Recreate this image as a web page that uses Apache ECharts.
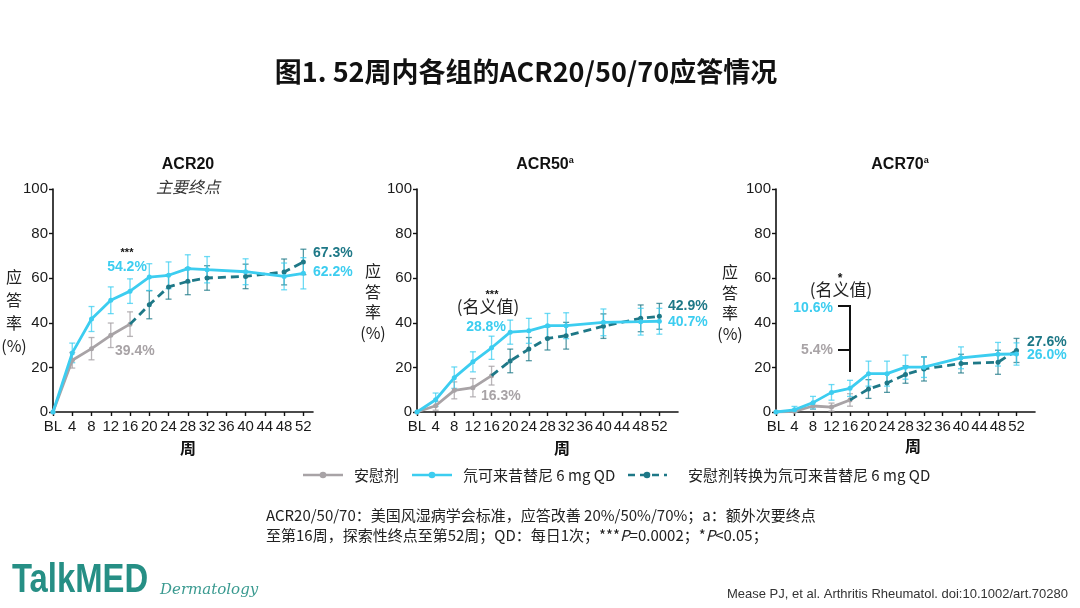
<!DOCTYPE html>
<html><head><meta charset="utf-8">
<script src="https://cdn.jsdelivr.net/npm/echarts@6/dist/echarts.min.js"></script>
<style>html,body{margin:0;padding:0;background:#fff}#c{width:1080px;height:608px}</style>
</head><body><div id="c"></div>
<script>
// ---------- data ----------
const tickWeeks = [0,4,8,12,16,20,24,28,32,36,40,44,48,52];
const yTicks = [0,20,40,60,80,100];
const deucWeeks = [0,4,8,12,16,20,24,28,32,40,48,52];
const pboWeeks = [0,4,8,12,16];
const switchWeeks = [16,20,24,28,32,40,48,52];

// ACR20
const acr20Deuc      = [0,26.5,41.7,50.1,54.2,60.5,61.3,64.3,63.8,62.9,60.8,62.2];
const acr20DeucErr   = [0,4.4,5.6,6.0,5.5,6.0,6.0,6.2,5.9,5.8,6.0,7.0];
const acr20Pbo       = [0,23.2,28.4,34.4,39.4];
const acr20PboErr    = [0,3.5,5.0,5.5,5.5];
const acr20Switch    = [39.4,48.1,56.1,58.6,60.1,60.8,62.8,67.3];
const acr20SwitchErr = [0,6.3,5.5,6.0,5.5,5.5,5.8,5.7];
// ACR50
const acr50Deuc      = [0,5.5,15.4,22.5,28.8,35.8,36.4,38.7,38.7,40.2,40.5,40.7];
const acr50DeucErr   = [0,3.0,4.8,4.5,5.2,5.4,5.6,5.5,5.8,6.0,6.0,5.8];
const acr50Pbo       = [0,2.8,9.7,10.9,16.3];
const acr50PboErr    = [0,2.0,3.8,4.1,4.2];
const acr50Switch    = [16.3,22.9,28.2,33.0,34.2,38.5,42.0,42.9];
const acr50SwitchErr = [0,5.3,5.2,5.2,6.0,5.5,6.0,5.8];
// ACR70
const acr70Deuc      = [0,1.0,4.2,8.8,10.6,17.2,17.2,20.1,20.1,24.3,25.9,26.0];
const acr70DeucErr   = [0,1.5,2.8,3.5,3.6,5.6,5.6,5.4,4.6,4.9,5.3,5.0];
const acr70Pbo       = [0,0.3,2.7,2.2,5.4];
const acr70PboErr    = [0,0.5,1.5,1.8,2.8];
const acr70Switch    = [5.4,10.3,13.0,16.8,19.3,21.7,22.3,27.6];
const acr70SwitchErr = [0,4.2,4.2,3.9,5.4,4.2,5.4,5.4];

// ---------- style ----------
const C_CYAN = '#3ccdf0', C_TEAL = '#1e7887', C_GRAY = '#a8a3a6';
const E_CYAN = 'rgba(60,205,240,0.75)', E_TEAL = 'rgba(30,120,135,0.75)', E_GRAY = 'rgba(168,163,166,0.8)';
const NUM_FONT = '"Liberation Sans", Arial, "Noto Sans CJK SC", sans-serif';
const CJK_FONT = '"Noto Sans CJK SC", "Liberation Sans", sans-serif';

const grids = [
  {left:53, top:189, width:260, height:223, max:54},
  {left:417, top:189, width:261, height:223, max:56},
  {left:776, top:189, width:259, height:223, max:56}
];

const chart = echarts.init(document.getElementById('c'));

function lineSeries(gi, xs, ys, color, dashed, z, hideFirst){
  return {
    type:'line', xAxisIndex:gi, yAxisIndex:gi, z:z, silent:true,
    data: xs.map((x,i)=> (hideFirst && i===0) ? {value:[x,ys[i]], symbolSize:0} : [x,ys[i]]),
    symbol:'circle', symbolSize:5, showAllSymbol:true,
    lineStyle:{color:color, width:2.8, type: dashed ? [8,5] : 'solid'},
    itemStyle:{color:color}, animation:false
  };
}
function errSeries(gi, xs, ys, es, color, z){
  const data = [];
  xs.forEach((x,i)=>{ if (es[i] > 0) data.push([x, Math.max(0, ys[i]-es[i]), ys[i]+es[i]]); });
  return {
    type:'custom', xAxisIndex:gi, yAxisIndex:gi, z:z, silent:true, animation:false,
    data: data, encode:{x:0, y:[1,2]},
    renderItem: function(params, api){
      const lo = api.coord([api.value(0), api.value(1)]);
      const hi = api.coord([api.value(0), api.value(2)]);
      const w = 3;
      const st = {stroke:color, lineWidth:1.3};
      return {type:'group', children:[
        {type:'line', shape:{x1:lo[0],y1:lo[1],x2:hi[0],y2:hi[1]}, style:st},
        {type:'line', shape:{x1:lo[0]-w,y1:lo[1],x2:lo[0]+w,y2:lo[1]}, style:st},
        {type:'line', shape:{x1:hi[0]-w,y1:hi[1],x2:hi[0]+w,y2:hi[1]}, style:st}
      ]};
    }
  };
}

const panels = [
  [acr20Deuc, acr20DeucErr, acr20Pbo, acr20PboErr, acr20Switch, acr20SwitchErr],
  [acr50Deuc, acr50DeucErr, acr50Pbo, acr50PboErr, acr50Switch, acr50SwitchErr],
  [acr70Deuc, acr70DeucErr, acr70Pbo, acr70PboErr, acr70Switch, acr70SwitchErr]
];

const series = [];
panels.forEach((p, gi)=>{
  series.push(errSeries(gi, pboWeeks, p[2], p[3], E_GRAY, 2));
  series.push(errSeries(gi, switchWeeks, p[4], p[5], E_TEAL, 2));
  series.push(errSeries(gi, deucWeeks, p[0], p[1], E_CYAN, 2));
  series.push(lineSeries(gi, pboWeeks, p[2], C_GRAY, false, 3, false));
  series.push(lineSeries(gi, switchWeeks, p[4], C_TEAL, true, 4, true));
  series.push(lineSeries(gi, deucWeeks, p[0], C_CYAN, false, 5, false));
});

const axisLineStyle = {show:true, lineStyle:{color:'#111', width:1.6}};
const xAxes = grids.map((g,i)=>({
  type:'value', gridIndex:i, min:0, max:g.max, interval:4,
  axisLine:axisLineStyle, splitLine:{show:false},
  axisTick:{show:true, length:4, lineStyle:{color:'#111', width:1.4}, customValues:tickWeeks},
  axisLabel:{customValues:tickWeeks, color:'#1a1a1a', fontSize:15, fontFamily:NUM_FONT, margin:7,
    formatter: v => v === 0 ? 'BL' : String(v)}
}));
const yAxes = grids.map((g,i)=>({
  type:'value', gridIndex:i, min:0, max:100, interval:20,
  axisLine:axisLineStyle, splitLine:{show:false},
  axisTick:{show:true, length:4, lineStyle:{color:'#111', width:1.4}},
  axisLabel:{color:'#1a1a1a', fontSize:15, fontFamily:NUM_FONT, margin:5}
}));

function txt(x, y, text, opt){
  opt = opt || {};
  return {type:'text', x:x, y:y, silent:true, z:20, scaleX: opt.scaleX || 1,
    style:{text:text, fill:opt.color || '#1a1a1a', font: opt.font || ('15px ' + NUM_FONT),
      textAlign: opt.align || 'left', textVerticalAlign:'middle', lineHeight: opt.lineHeight, rich: opt.rich}};
}
const bold14 = 'bold 14px ' + NUM_FONT;

const graphics = [
  txt(526, 72, '图1. 52周内各组的ACR20/50/70应答情况', {font:'bold 27px ' + CJK_FONT, align:'center', color:'#111'}),
  // panel titles
  txt(188, 165, 'ACR20', {font:'bold 16px ' + NUM_FONT, align:'center', color:'#111'}),
  txt(188, 187, '主要终点', {font:'italic 16px ' + CJK_FONT, align:'center', color:'#333'}),
  txt(545, 165, '{b|ACR50}{s|a}', {align:'center', rich:{b:{font:'bold 16px ' + NUM_FONT, fill:'#111'}, s:{font:'bold 9px ' + NUM_FONT, fill:'#111', verticalAlign:'top', padding:[0,0,8,0]}}}),
  txt(900, 165, '{b|ACR70}{s|a}', {align:'center', rich:{b:{font:'bold 16px ' + NUM_FONT, fill:'#111'}, s:{font:'bold 9px ' + NUM_FONT, fill:'#111', verticalAlign:'top', padding:[0,0,8,0]}}}),
  // y axis names
  txt(14, 311, '应\n答\n率\n(%)', {font:'16px ' + CJK_FONT, align:'center', lineHeight:23, color:'#222'}),
  txt(373, 302, '应\n答\n率\n(%)', {font:'16px ' + CJK_FONT, align:'center', lineHeight:20.5, color:'#222'}),
  txt(730, 303, '应\n答\n率\n(%)', {font:'16px ' + CJK_FONT, align:'center', lineHeight:20.5, color:'#222'}),
  // x axis names
  txt(188, 448, '周', {font:'bold 16px ' + CJK_FONT, align:'center', color:'#111'}),
  txt(562, 448, '周', {font:'bold 16px ' + CJK_FONT, align:'center', color:'#111'}),
  txt(913, 446, '周', {font:'bold 16px ' + CJK_FONT, align:'center', color:'#111'}),
  // ACR20 annotations
  txt(127, 253, '***', {font:'bold 11px ' + NUM_FONT, align:'center', color:'#111'}),
  txt(127, 267, '54.2%', {font:bold14, align:'center', color:C_CYAN}),
  txt(115, 351, '39.4%', {font:bold14, color:C_GRAY}),
  txt(313, 253, '67.3%', {font:bold14, color:C_TEAL}),
  txt(313, 272, '62.2%', {font:bold14, color:C_CYAN}),
  // ACR50 annotations
  txt(488, 307, '(名义值)', {font:'17px ' + CJK_FONT, align:'center', color:'#222'}),
  txt(492, 295, '***', {font:'bold 11px ' + NUM_FONT, align:'center', color:'#111'}),
  txt(486, 327, '28.8%', {font:bold14, align:'center', color:C_CYAN}),
  txt(481, 396, '16.3%', {font:bold14, color:C_GRAY}),
  txt(668, 306, '42.9%', {font:bold14, color:C_TEAL}),
  txt(668, 322, '40.7%', {font:bold14, color:C_CYAN}),
  // ACR70 annotations
  txt(841, 290, '(名义值)', {font:'17px ' + CJK_FONT, align:'center', color:'#222'}),
  txt(840, 279, '*', {font:'bold 12px ' + NUM_FONT, align:'center', color:'#111'}),
  txt(833, 308, '10.6%', {font:bold14, align:'right', color:C_CYAN}),
  txt(833, 350, '5.4%', {font:bold14, align:'right', color:C_GRAY}),
  {type:'polyline', silent:true, z:20, shape:{points:[[838,306],[850,306],[850,372]]}, style:{stroke:'#111', lineWidth:2, fill:null}},
  {type:'line', silent:true, z:20, shape:{x1:838,y1:350,x2:850,y2:350}, style:{stroke:'#111', lineWidth:2}},
  txt(1027, 342, '27.6%', {font:bold14, color:C_TEAL}),
  txt(1027, 355, '26.0%', {font:bold14, color:C_CYAN}),
  // legend
  {type:'line', silent:true, shape:{x1:303,y1:475,x2:343,y2:475}, style:{stroke:C_GRAY, lineWidth:2.6}},
  {type:'circle', silent:true, shape:{cx:323,cy:475,r:3.3}, style:{fill:C_GRAY}},
  txt(354, 475, '安慰剂', {font:'15px ' + CJK_FONT, color:'#222'}),
  {type:'line', silent:true, shape:{x1:412,y1:475,x2:452,y2:475}, style:{stroke:C_CYAN, lineWidth:2.6}},
  {type:'circle', silent:true, shape:{cx:432,cy:475,r:3.3}, style:{fill:C_CYAN}},
  txt(463, 475, '氘可来昔替尼 6 mg QD', {font:'15px ' + CJK_FONT, color:'#222'}),
  {type:'line', silent:true, shape:{x1:628,y1:475,x2:667,y2:475}, style:{stroke:C_TEAL, lineWidth:2.6, lineDash:[7,5]}},
  {type:'circle', silent:true, shape:{cx:647,cy:475,r:3.3}, style:{fill:C_TEAL}},
  txt(688, 475, '安慰剂转换为氘可来昔替尼 6 mg QD', {font:'15px ' + CJK_FONT, color:'#222'}),
  // footnotes
  txt(266, 515, 'ACR20/50/70：美国风湿病学会标准，应答改善 20%/50%/70%；a：额外次要终点', {font:'15px ' + CJK_FONT, color:'#222'}),
  txt(266, 535, '至第16周，探索性终点至第52周；QD：每日1次；***{i|P}=0.0002；*{i|P}<0.05；', {font:'15px ' + CJK_FONT, color:'#222',
      rich:{i:{font:'italic 15px ' + CJK_FONT, fill:'#222'}}}),
  // logo + citation
  txt(12, 581, 'TalkMED', {font:'bold 40px ' + NUM_FONT, color:'#268f85', scaleX:0.82}),
  txt(160, 590, 'Dermatology', {font:'italic 15px "DejaVu Serif", serif', color:'#3a9a90'}),
  txt(1068, 594, 'Mease PJ, et al. Arthritis Rheumatol. doi:10.1002/art.70280', {font:'13px ' + NUM_FONT, align:'right', color:'#333'})
];

chart.setOption({
  animation:false,
  backgroundColor:'#fff',
  grid: grids.map(g=>({left:g.left, top:g.top, width:g.width, height:g.height})),
  xAxis: xAxes,
  yAxis: yAxes,
  series: series,
  graphic: graphics
});
</script>
</body></html>
